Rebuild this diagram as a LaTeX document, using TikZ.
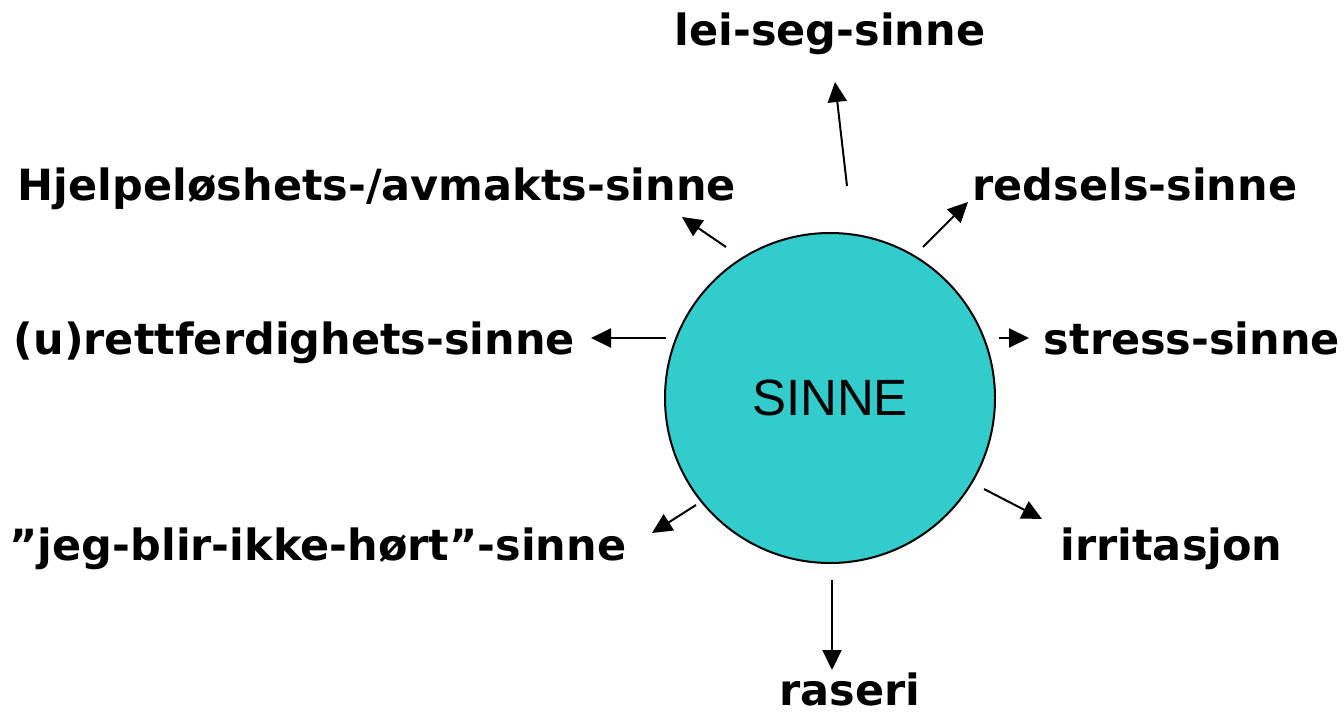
\documentclass[tikz,border=0pt]{standalone}
\usepackage{fontspec}
\setmainfont{DejaVu Sans}
\newfontfamily\corefont{Liberation Sans}
\usetikzlibrary{arrows.meta}
\definecolor{sinnefill}{RGB}{51,204,204}
\begin{document}
\begin{tikzpicture}[x=1pt,y=-1pt,
  lbl/.style={anchor=base, inner sep=0pt, font=\fontsize{43}{50}\selectfont\bfseries},
  arr/.style={line width=2pt, -{Triangle[length=20pt,width=19pt]}},
]
\useasboundingbox (0,0) rectangle (1344,714);

% central circle
\node[circle, draw, line width=2pt, fill=sinnefill, minimum size=330pt, inner sep=0pt,
      font=\corefont\fontsize{51}{60}\selectfont] (core) at (830,398) {SINNE};

% surrounding labels
\node[lbl] (leiseg)  at (830,46)    {lei-seg-sinne};
\node[lbl] (hjelp)   at (377,201)   {Hjelpeløshets-/avmakts-sinne};
\node[lbl] (redsel)  at (1135,201)  {redsels-sinne};
\node[lbl] (rett)    at (294.5,354) {(u)rettferdighets-sinne};
\node[lbl] (stress)  at (1192,354)  {stress-sinne};
\node[lbl] (hort)    at (318,560)   {”jeg-blir-ikke-hørt”-sinne};
\node[lbl] (irrit)   at (1171.5,560){irritasjon};
\node[lbl] (raseri)  at (850,705)   {raseri};

% arrow ends
\coordinate (a1s) at (847,186);  \coordinate (a1e) at (835,82);
\coordinate (a2s) at (726,247);  \coordinate (a2e) at (682,217);
\coordinate (a3s) at (923,247);  \coordinate (a3e) at (968,202);
\coordinate (a4s) at (666,338);  \coordinate (a4e) at (591,338);
\coordinate (a5s) at (999,338);  \coordinate (a5e) at (1029,338);
\coordinate (a6s) at (696,505);  \coordinate (a6e) at (652,533);
\coordinate (a7s) at (984,489);  \coordinate (a7e) at (1042,519);
\coordinate (a8s) at (832,580);  \coordinate (a8e) at (832,670);

\foreach \i in {1,...,8} \draw[arr] (a\i s) -- (a\i e);
\end{tikzpicture}
\end{document}
